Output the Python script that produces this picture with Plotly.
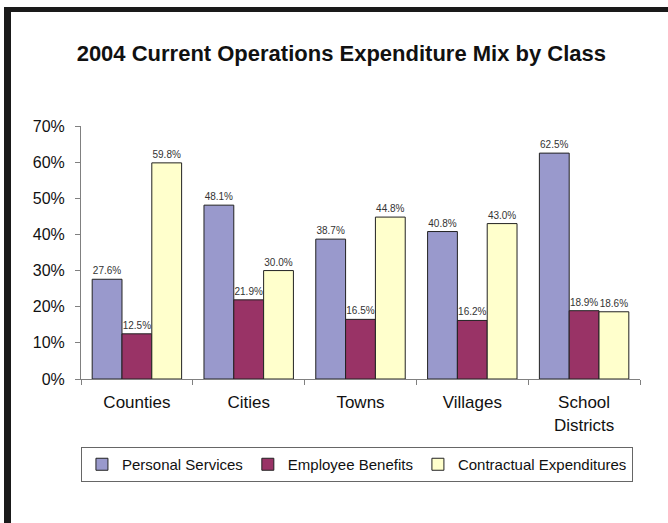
import plotly.graph_objects as go

categories = ["Counties", "Cities", "Towns", "Villages", "School<br>Districts"]
personal_services = [27.6, 48.1, 38.7, 40.8, 62.5]
employee_benefits = [12.5, 21.9, 16.5, 16.2, 18.9]
contractual = [59.8, 30.0, 44.8, 43.0, 18.6]
y_ticks = [0, 10, 20, 30, 40, 50, 60, 70]
y_tick_labels = [f"{v}%" for v in y_ticks]

W, H = 668, 523
L, R, T, B = 81, 28, 126, 144
pw, ph = W - L - R, H - T - B

def px_x(x):
    return (x - L) / pw

def px_y(y):
    return (H - B - y) / ph

series = [
    ("Personal Services", personal_services, "#9999CC"),
    ("Employee Benefits", employee_benefits, "#993366"),
    ("Contractual Expenditures", contractual, "#FFFFCC"),
]

fig = go.Figure()
for name, vals, color in series:
    fig.add_trace(go.Bar(
        name=name, x=categories, y=[v / 100 for v in vals],
        marker=dict(color=color, line=dict(color="#222222", width=1)),
        text=[f"{v:.1f}%" for v in vals], textposition="outside",
        textfont=dict(size=10, color="#333333", family="Liberation Sans, Arial"),
        cliponaxis=False,
    ))

fig.update_layout(
    width=W, height=H,
    margin=dict(l=L, r=R, t=T, b=B, autoexpand=False),
    paper_bgcolor="white", plot_bgcolor="white",
    barmode="group", bargap=0.2, bargroupgap=0,
    font=dict(family="Liberation Sans, Arial", size=17, color="#111111"),
    title=dict(text="<b>2004 Current Operations Expenditure Mix by Class</b>",
               x=0.511, xanchor="center", y=1 - 53 / H, yanchor="middle",
               font=dict(size=22, color="#111111")),
    showlegend=True,
    legend=dict(orientation="h", x=-0.0001, xanchor="left",
                y=px_y(447), yanchor="top",
                bordercolor="#666666", borderwidth=1,
                font=dict(size=15), itemwidth=30,
                traceorder="normal"),
    xaxis=dict(showline=True, linecolor="#808080", linewidth=1,
               ticks="outside", ticklen=5, tickcolor="#808080",
               tickson="boundaries", showgrid=False,
               ticklabelstandoff=8,
               tickfont=dict(size=17)),
    yaxis=dict(range=[0, 0.7], tickvals=[v / 100 for v in y_ticks],
               ticktext=y_tick_labels, showline=True, linecolor="#808080",
               linewidth=1, ticks="outside", ticklen=5, tickcolor="#808080",
               showgrid=False, zeroline=False, ticklabelstandoff=7,
               tickfont=dict(size=16)),
    shapes=[
        dict(type="rect", xref="paper", yref="paper",
             x0=px_x(4), x1=px_x(11), y0=px_y(H + 5), y1=px_y(7),
             fillcolor="#1a1a1a", line=dict(width=0), layer="above"),
        dict(type="rect", xref="paper", yref="paper",
             x0=px_x(4), x1=px_x(W + 5), y0=px_y(12), y1=px_y(7),
             fillcolor="#1a1a1a", line=dict(width=0), layer="above"),
    ],
)

fig.write_html("out.html", config={"displayModeBar": False},
               post_script="document.body.style.margin='0';document.body.style.overflow='hidden';")
